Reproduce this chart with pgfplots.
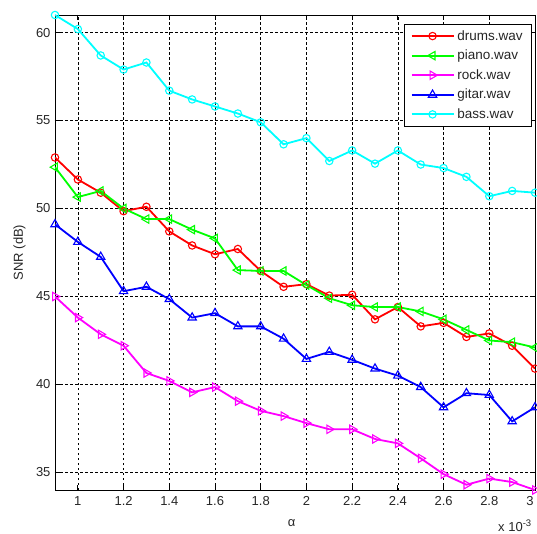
\documentclass[border=0pt]{standalone}
\usepackage{fontspec}
\setmainfont{Liberation Sans}
\usepackage{pgfplots}
\pgfplotsset{compat=1.18}

\definecolor{mred}{rgb}{1,0,0}
\definecolor{mgreen}{rgb}{0,1,0}
\definecolor{mmag}{rgb}{1,0,1}
\definecolor{mblue}{rgb}{0,0,1}
\definecolor{mcyan}{rgb}{0,1,1}

\begin{document}
\begin{tikzpicture}
\begin{axis}[
    name=ax,
    scale only axis,
    width=480pt, height=475pt,
    xmin=0.9, xmax=3, ymin=34, ymax=61,
    xtick={1,1.2,1.4,1.6,1.8,2,2.2,2.4,2.6,2.8,3},
    xticklabels={1,1.2,1.4,1.6,1.8,2,2.2,2.4,2.6,2.8,\makebox[0pt][r]{3\hspace{1.5pt}}},
    ytick={35,40,45,50,55,60},
    yticklabels={35,40,45,50,55,60},
    tick align=inside,
    major tick length=5pt,
    grid=major,
    grid style={black, line width=0.6pt, dash pattern=on 2.5pt off 2.5pt},
    axis line style={black, line width=0.8pt},
    tick style={black, line width=0.8pt},
    tick label style={font=\fontsize{13}{15}\selectfont, text=black!85},
    xticklabel style={yshift=-3pt},
    yticklabel style={xshift=-1pt},
    every axis y label/.style={at={(axis description cs:-0.074,0.5)}, rotate=90, anchor=center, font=\fontsize{13}{15}\selectfont, text=black!85},
    every axis x label/.style={at={(axis description cs:0.493,-0.0695)}, anchor=center, font=\fontsize{13}{15}\selectfont, text=black!85},
    xlabel={α},
    ylabel={SNR (dB)},
    legend cell align=left,
    legend style={at={(axis description cs:0.994,0.981)}, anchor=north east,
        draw=black, line width=0.8pt, fill=white,
        font=\fontsize{13.5}{15}\selectfont, text=black!85,
        inner xsep=6pt, inner ysep=3.5pt, row sep=3.3pt,
        nodes={inner xsep=3pt, inner ysep=2.5pt}},
    legend image code/.code={\draw[mark repeat=2,mark phase=2,#1] plot coordinates {(0pt,0pt) (21pt,0pt) (42pt,0pt)};},
    every axis plot/.append style={line width=1.8pt},
]

% drums
\addplot[mred, mark=o, mark size=3.7pt, mark options={line width=1.1pt, solid, fill=none}] coordinates {
(0.9,52.9) (1.0,51.65) (1.1,50.9) (1.2,49.85) (1.3,50.1) (1.4,48.7) (1.5,47.9) (1.6,47.4)
(1.7,47.7) (1.8,46.45) (1.9,45.55) (2.0,45.7) (2.1,45.05) (2.2,45.1) (2.3,43.7) (2.4,44.4)
(2.5,43.3) (2.6,43.5) (2.7,42.7) (2.8,42.9) (2.9,42.2) (3.0,40.9)
};

% piano
\addplot[mgreen, mark=triangle, mark size=4.8pt, mark options={rotate=90, line width=1.1pt, solid, fill=none}] coordinates {
(0.9,52.35) (1.0,50.65) (1.1,51.0) (1.2,50.0) (1.3,49.4) (1.4,49.4) (1.5,48.8) (1.6,48.3)
(1.7,46.5) (1.8,46.45) (1.9,46.45) (2.0,45.65) (2.1,44.9) (2.2,44.5) (2.3,44.4) (2.4,44.4)
(2.5,44.15) (2.6,43.7) (2.7,43.1) (2.8,42.5) (2.9,42.4) (3.0,42.1)
};

% rock
\addplot[mmag, mark=triangle, mark size=4.8pt, mark options={rotate=-90, line width=1.1pt, solid, fill=none}] coordinates {
(0.9,45.0) (1.0,43.8) (1.1,42.85) (1.2,42.2) (1.3,40.65) (1.4,40.2) (1.5,39.55) (1.6,39.85)
(1.7,39.05) (1.8,38.5) (1.9,38.2) (2.0,37.8) (2.1,37.45) (2.2,37.45) (2.3,36.9) (2.4,36.65)
(2.5,35.8) (2.6,34.9) (2.7,34.3) (2.8,34.65) (2.9,34.45) (3.0,34.0)
};

% gitar
\addplot[mblue, mark=triangle, mark size=4.8pt, mark options={line width=1.1pt, solid, fill=none}] coordinates {
(0.9,49.1) (1.0,48.1) (1.1,47.25) (1.2,45.3) (1.3,45.55) (1.4,44.85) (1.5,43.8) (1.6,44.05)
(1.7,43.3) (1.8,43.3) (1.9,42.6) (2.0,41.45) (2.1,41.85) (2.2,41.4) (2.3,40.9) (2.4,40.5)
(2.5,39.85) (2.6,38.7) (2.7,39.5) (2.8,39.4) (2.9,37.9) (3.0,38.7)
};

% bass
\addplot[mcyan, mark=o, mark size=3.7pt, mark options={line width=1.1pt, solid, fill=none}] coordinates {
(0.9,61.0) (1.0,60.2) (1.1,58.7) (1.2,57.9) (1.3,58.3) (1.4,56.7) (1.5,56.2) (1.6,55.8)
(1.7,55.4) (1.8,54.9) (1.9,53.65) (2.0,54.0) (2.1,52.7) (2.2,53.3) (2.3,52.55) (2.4,53.3)
(2.5,52.5) (2.6,52.3) (2.7,51.8) (2.8,50.7) (2.9,51.0) (3.0,50.9)
};

\legend{drums.wav, piano.wav, rock.wav, gitar.wav, bass.wav}
\end{axis}
\node[anchor=west, inner sep=0pt, font=\fontsize{13}{15}\selectfont, text=black!85]
    at ([xshift=-37pt,yshift=-36pt]ax.south east) {x 10\raisebox{5pt}{\fontsize{9.5}{10}\selectfont -3}};
\pgfresetboundingbox
\path (ax.south west) ++(-55pt,-43pt) rectangle ++(537pt,533pt);
\end{tikzpicture}
\end{document}
